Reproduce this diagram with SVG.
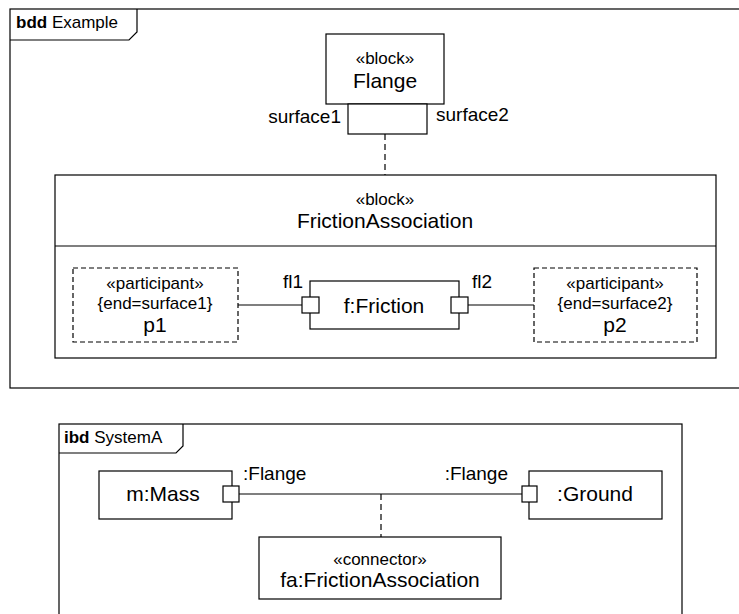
<svg xmlns="http://www.w3.org/2000/svg" width="739" height="614" viewBox="0 0 739 614">
<style>
.ln{fill:none;stroke:#000;stroke-width:1.2}
.box{fill:#fff;stroke:#000;stroke-width:1.2}
.dbox{fill:#fff;stroke:#000;stroke-width:1.2;stroke-dasharray:5 3}
.dash{fill:none;stroke:#000;stroke-width:1.2;stroke-dasharray:6 4}
text{font-family:"Liberation Sans",Arial,sans-serif;fill:#000}
.m{font-size:21px;text-anchor:middle}
.s{font-size:17px;text-anchor:middle}
.l{font-size:19px}
.t{font-size:17px}
</style>
<rect width="739" height="614" fill="#fff"/>
<g id="frame-bdd">
<rect class="ln" x="10" y="9" width="740" height="379"/>
<path class="ln" d="M10,40 H129 L137,32 V9"/>
<text class="t" x="16" y="28"><tspan font-weight="bold">bdd</tspan> Example</text>
</g>
<g id="frame-ibd">
<rect class="ln" x="59" y="424" width="623" height="200"/>
<path class="ln" d="M59,453 H176 L183,446 V424"/>
<text class="t" x="64" y="443"><tspan font-weight="bold">ibd</tspan> SystemA</text>
</g>
<g id="flange">
<rect class="box" x="326" y="34" width="118" height="70"/>
<text class="s" x="385" y="64">«block»</text>
<text class="m" x="385" y="88">Flange</text>
</g>
<g id="flange-ports">
<rect class="box" x="348" y="104" width="79" height="30"/>
<text class="l" x="341" y="123" text-anchor="end">surface1</text>
<text class="l" x="436" y="121">surface2</text>
</g>
<g id="friction-association">
<rect class="box" x="55" y="175" width="661" height="183"/>
<line class="ln" x1="55" y1="246" x2="716" y2="246"/>
<text class="s" x="385" y="205">«block»</text>
<text class="m" x="385" y="228">FrictionAssociation</text>
</g>
<g id="p1">
<rect class="dbox" x="73" y="268" width="165" height="74"/>
<text class="s" x="155" y="289">«participant»</text>
<text class="s" x="155" y="309">{end=surface1}</text>
<text class="m" x="155" y="332">p1</text>
</g>
<g id="p2">
<rect class="dbox" x="534" y="268" width="163" height="74"/>
<text class="s" x="615" y="289">«participant»</text>
<text class="s" x="615" y="309">{end=surface2}</text>
<text class="m" x="615" y="332">p2</text>
</g>
<g id="friction">
<rect class="box" x="310" y="281" width="149" height="48"/>
<text class="m" x="384" y="313">f:Friction</text>
<rect class="box" x="302" y="297" width="17" height="16"/>
<rect class="box" x="451" y="297" width="17" height="16"/>
<text class="l" x="283" y="288">fl1</text>
<text class="l" x="472" y="288">fl2</text>
</g>
<g id="mass">
<rect class="box" x="99" y="471" width="133" height="48"/>
<text class="m" x="163" y="501">m:Mass</text>
<rect class="box" x="223" y="486" width="16" height="16"/>
<text class="l" x="243" y="480">:Flange</text>
</g>
<g id="ground">
<rect class="box" x="529" y="471" width="133" height="48"/>
<text class="m" x="595" y="501">:Ground</text>
<rect class="box" x="522" y="486" width="15" height="16"/>
<text class="l" x="508" y="480" text-anchor="end">:Flange</text>
</g>
<g id="fa">
<rect class="box" x="259" y="537" width="242" height="62"/>
<text class="s" x="380" y="565">«connector»</text>
<text class="m" x="380" y="587">fa:FrictionAssociation</text>
</g>
<g id="connectors">
<line class="dash" x1="385" y1="134" x2="385" y2="175"/>
<line class="ln" x1="238" y1="305" x2="302" y2="305"/>
<line class="ln" x1="468" y1="305" x2="534" y2="305"/>
<line class="ln" x1="239" y1="494" x2="522" y2="494"/>
<line class="dash" x1="381" y1="494" x2="381" y2="537"/>
</g>
</svg>
